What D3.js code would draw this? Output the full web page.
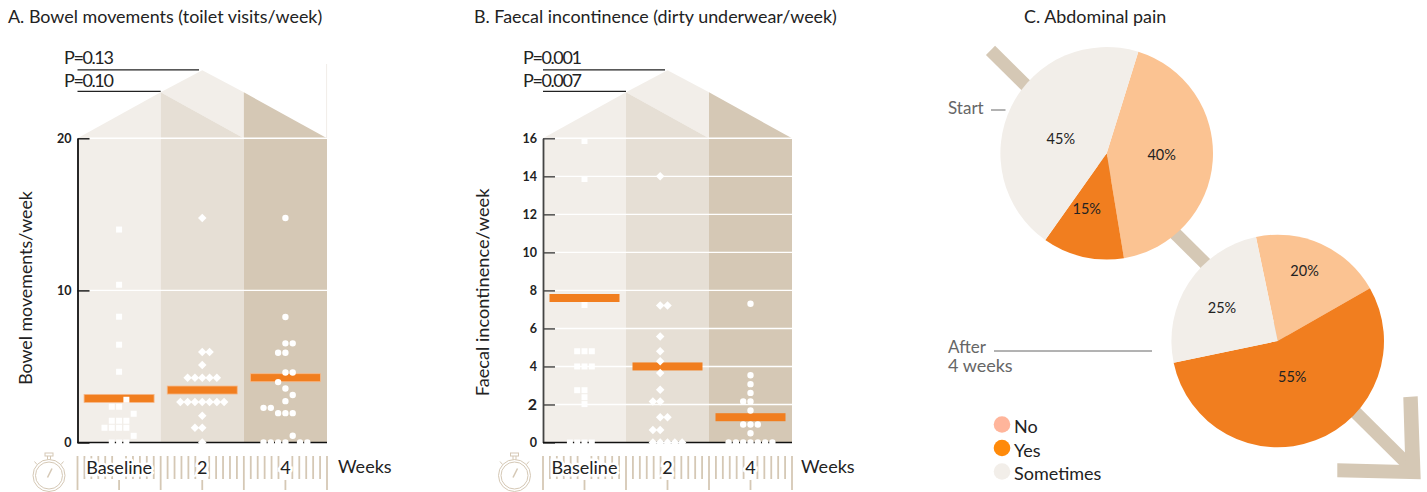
<!DOCTYPE html>
<html>
<head>
<meta charset="utf-8">
<script src="https://cdn.jsdelivr.net/npm/d3@7"></script>
<style>
  html, body { margin: 0; padding: 0; background: #fff; }
  svg { display: block; }
  text { font-family: "Lato", sans-serif; fill: #222; }
</style>
</head>
<body>
<svg id="chart" width="1427" height="492"></svg>
<script>
const weeks = ["Baseline", "2", "4"];

// each dot: value, slot = which swarm column it sits in
const bowelBaseValues = [14, 10.37, 8.27, 6.43, 4.65, 2.81, 2.35, 2.35, 1.89, 1.43, 1.43, 1.43, 0.97, 0.97, 0.97, 0.97, 0.44, 0, 0, 0];
const bowelBaseSlots  = [0, 0, 0, 0, 0, 1, -1, 0, 2, -1, 0, 1, -2, -1, 0, 1, 2, -1, 0, 1];
const bowelWk2Values = [14.76, 5.95, 5.95, 5.09, 4.26, 4.26, 4.26, 4.26, 4.26, 2.66, 2.66, 2.66, 2.66, 2.66, 2.66, 2.66, 1.76, 0.97, 0.97, 0];
const bowelWk2Slots  = [0, 0, 1, 0, -2, -1, 0, 1, 2, -3, -2, -1, 0, 1, 2, 3, 0, -1, 0, 0];
const bowelWk4Values = [14.76, 8.25, 6.52, 6.52, 5.9, 5.9, 4.6, 4.6, 3.97, 3.55, 3.12, 2.72, 2.28, 2.28, 1.93, 1.93, 1.93, 0.44, 0, 0, 0, 0, 0, 0];
const bowelWk4Slots  = [0, 0, 0, 1, -1, 0, 0, 1, -1, 0, 1, 0, -3, -2, -1, 0, 1, 1, -3, -2, -1, 0, 2, 3];
const bowelMeans = [2.9, 3.45, 4.26];

const faecalBaseValues = [15.86, 13.86, 7.23, 4.8, 4.8, 4.8, 4, 4, 4, 2.75, 2.75, 2.38, 2.02, 0, 0, 0, 0];
const faecalBaseSlots  = [0, 0, 0, -1, 0, 1, -1, 0, 1, -1, 0, 0, 0, -2, -1, 0, 1];
const faecalWk2Values = [14, 7.2, 7.2, 5.58, 4.8, 4.27, 3.66, 2.77, 2.16, 2.16, 1.33, 1.33, 0.66, 0.66, 0, 0, 0, 0, 0];
const faecalWk2Slots  = [-1, -1, 0, -1, -1, -1, -1, -1, -2, -1, -1, 0, -2, -1, -2, -1, 0, 1, 2];
const faecalWk4Values = [7.3, 3.54, 3.07, 2.61, 2.16, 2.16, 1.68, 0.95, 0.95, 0.95, 0.49, 0, 0, 0, 0, 0, 0, 0];
const faecalWk4Slots  = [0, 0, 0, 0, -1, 0, 0, -1, 0, 1, 0, -3, -2, -1, 0, 1, 2, 3];
const faecalMeans = [7.6, 4.0, 1.33];

const bowelTicks = [0, 10, 20];
const faecalTicks = [0, 2, 4, 6, 8, 10, 12, 14, 16];

const painCats = ["No", "Yes", "Sometimes"];
// slices as drawn, the printed labels do not quite match the first pie
const startShares = [42.6, 12.4, 45];
const startLabels = ["40%", "15%", "45%"];
const afterShares = [20, 55, 25];
const afterLabels = ["20%", "55%", "25%"];

const svg = d3.select("#chart");

const bandFill = ["#f2eee9", "#e6dfd5", "#d5c8b5"];
const tan = "#d5c8b5";
const orange = "#f17e1f";

function title(x, str) {
  svg.append("text").attr("x", x).attr("y", 23).attr("font-size", 17.9).text(str);
}

function drawPanel(o) {
  let g = svg.append("g");

  let x = d3.scaleBand().domain(weeks).range([o.left, o.right]);
  let y = d3.scaleLinear().domain([0, o.max]).range([442.5, 138.3]);
  let slotX = d3.scaleLinear().domain([-1, 1]).range([-7.3, 7.3]);
  let bw = x.bandwidth();
  let x0 = x(weeks[0]), x1 = x(weeks[1]), x2 = x(weeks[2]);
  let yTop = y(o.max), eave = yTop - 46;
  let peak = [o.peakX, yTop - 68];
  let line = d3.line();

  // the house roof
  g.append("path").attr("fill", bandFill[0]).attr("d", line([[x0, yTop], [x1, eave], [x1, yTop]]) + "Z");
  g.append("path").attr("fill", bandFill[0]).attr("d", line([[x1, eave], [x1 + bw / 2, peak[1]], [x2, eave], [x2, yTop]]) + "Z");
  g.append("path").attr("fill", bandFill[1]).attr("d", line([[x1, eave], [x2, yTop], [x1, yTop]]) + "Z");
  g.append("path").attr("fill", bandFill[2]).attr("d", line([[x2, eave], [o.right, yTop], [x2, yTop]]) + "Z");

  g.selectAll(".band").data(weeks).enter().append("rect")
    .attr("class", "band")
    .attr("x", d => x(d))
    .attr("y", yTop)
    .attr("width", bw)
    .attr("height", y(0) - yTop)
    .attr("fill", (d, i) => bandFill[i]);

  // white grid lines
  g.selectAll(".grid").data(o.ticks.slice(1)).enter().append("line")
    .attr("class", "grid")
    .attr("x1", o.left + 12).attr("x2", o.right)
    .attr("y1", d => y(d)).attr("y2", d => y(d))
    .attr("stroke", "#fff").attr("stroke-width", 1.4);

  // axis, ticks point inward
  let axis = d3.axisLeft(y).tickValues(o.ticks).tickSizeInner(-12).tickSizeOuter(0).tickPadding(6);
  let ax = g.append("g").attr("transform", `translate(${o.left},0)`).call(axis);
  ax.select(".domain").attr("stroke", o.axisColor).attr("stroke-width", 1.8);
  ax.selectAll(".tick line").attr("stroke", o.axisColor).attr("stroke-width", 1.4);
  ax.selectAll(".tick text")
    .attr("font-size", d => (o.bigTwo && d === 2) ? 16 : 12.5)
    .attr("font-weight", 700)
    .style("font-family", "Lato, sans-serif")
    .style("fill", "#222");

  g.append("line")
    .attr("x1", o.left).attr("x2", o.right)
    .attr("y1", y(0)).attr("y2", y(0))
    .attr("stroke", "#111").attr("stroke-width", 1.4);

  // mean bars
  g.selectAll(".mean").data(o.means).enter().append("rect")
    .attr("class", "mean")
    .attr("x", (d, i) => x(weeks[i]) + bw / 2 - 35)
    .attr("y", d => y(d) - 4)
    .attr("width", 70).attr("height", 8)
    .attr("fill", orange)
    .attr("stroke", o.meanEdge ? "#f6b98a" : "none")
    .attr("stroke-width", 0.8);

  // dots, square / diamond / circle per time point, they sit over the baseline
  let symbols = [d3.symbolSquare, d3.symbolDiamond2, d3.symbolCircle];
  let sizes = [36, 46, 32];
  o.series.forEach((s, i) => {
    let cx = x(weeks[i]) + bw / 2;
    let pts = s.values.map((v, j) => ({value: v, slot: s.slots[j]}));
    g.selectAll(".dot" + i).data(pts).enter().append("path")
      .attr("class", "dot" + i)
      .attr("d", d3.symbol().type(symbols[i]).size(sizes[i]))
      .attr("transform", d => `translate(${cx + slotX(d.slot)},${y(d.value)})`)
      .attr("fill", "#fff");
  });

  // P value brackets
  let pLines = [[o.pLabels[0], peak[0], yTop - 68.5, 64], [o.pLabels[1], x1, yTop - 47, 87]];
  pLines.forEach(p => {
    g.append("line").attr("x1", o.left).attr("x2", p[1])
      .attr("y1", p[2]).attr("y2", p[2]).attr("stroke", "#222").attr("stroke-width", 1.3);
    g.append("text").attr("x", o.left - o.pInset).attr("y", p[3])
      .attr("font-size", 18).attr("letter-spacing", -1.4).text(p[0]);
  });

  // y title
  g.append("text")
    .attr("transform", `translate(${o.labelX},${o.labelY}) rotate(-90)`)
    .attr("text-anchor", "middle")
    .attr("font-size", o.labelSize)
    .text(o.yLabel);

  drawRuler(g, x, o);
}

function drawRuler(g, x, o) {
  let bw = x.bandwidth();
  let step = bw / 12;
  let ticks = d3.range(0, 37);
  g.selectAll(".rule").data(ticks).enter().append("line")
    .attr("class", "rule")
    .attr("x1", d => o.left + d * step).attr("x2", d => o.left + d * step)
    .attr("y1", d => d % 12 === 0 ? 456 : (d % 6 === 0 ? 480 : 456))
    .attr("y2", d => d % 6 === 0 ? 490 : 479)
    .attr("stroke", tan).attr("stroke-width", 1.8);

  g.selectAll(".wk").data(weeks).enter().append("text")
    .attr("class", "wk")
    .attr("x", d => x(d) + bw / 2)
    .attr("y", 474)
    .attr("text-anchor", "middle")
    .attr("font-size", 18)
    .attr("stroke", "#fff").attr("stroke-width", 5).attr("paint-order", "stroke")
    .text(d => d);
  g.append("text").attr("x", o.right + o.weeksGap).attr("y", 473).attr("font-size", 18).text("Weeks");

  // stopwatch
  let w = g.append("g").attr("transform", `translate(${o.left - 28.5},475.5)`)
    .attr("fill", "none").attr("stroke", tan).attr("stroke-width", 1);
  w.append("circle").attr("r", 16);
  w.append("circle").attr("r", 13.5);
  w.append("rect").attr("x", -4).attr("y", -22.5).attr("width", 8).attr("height", 3);
  w.append("path").attr("d", "M-1.5,-19.5V-16M1.5,-19.5V-16");
  w.append("path").attr("d", "M-12,-11L-14.5,-14M12,-11L14.5,-14");
  w.append("path").attr("d", "M-1.5,2L3,-7").attr("stroke-width", 1.6);
}

function drawPie(o) {
  let g = svg.append("g").attr("transform", `translate(${o.cx},${o.cy})`);
  let start = o.startDeg * Math.PI / 180;
  let pie = d3.pie().sort(null).startAngle(start).endAngle(start + 2 * Math.PI);
  let arc = d3.arc().innerRadius(0).outerRadius(106.3);
  let color = d3.scaleOrdinal().domain(painCats).range(["#fbc392", orange, "#f2eee9"]);
  let arcs = pie(o.shares);

  g.selectAll("path").data(arcs).enter().append("path")
    .attr("d", arc)
    .attr("fill", (d, i) => color(painCats[i]));

  g.selectAll("text").data(arcs).enter().append("text")
    .attr("text-anchor", "middle")
    .attr("font-size", 14.5)
    .attr("dy", "0.35em")
    .attr("transform", (d, i) => {
      let p = o.labelPolar[i];
      let a = p[1] * Math.PI / 180;
      return `translate(${p[0] * Math.sin(a)},${-p[0] * Math.cos(a)})`;
    })
    .text((d, i) => o.labels[i]);
}

title(8, "A. Bowel movements (toilet visits/week)");
title(474, "B. Faecal incontinence (dirty underwear/week)");
title(1024, "C. Abdominal pain");

drawPanel({
  left: 77.5, right: 327, max: 20, ticks: bowelTicks, means: bowelMeans, meanEdge: true,
  series: [
    {values: bowelBaseValues, slots: bowelBaseSlots},
    {values: bowelWk2Values, slots: bowelWk2Slots},
    {values: bowelWk4Values, slots: bowelWk4Slots}
  ],
  pLabels: ["P=0.13", "P=0.10"], peakX: 199, pInset: 13.5, weeksGap: 11,
  yLabel: "Bowel movements/week", labelX: 32, labelY: 288, labelSize: 17.8, axisColor: "#111"
});

// faint edge to the right of panel A
svg.append("line").attr("x1", 326.6).attr("x2", 326.6).attr("y1", 64).attr("y2", 138)
  .attr("stroke", "#f1ede8").attr("stroke-width", 1);

drawPanel({
  left: 543, right: 792, max: 16, ticks: faecalTicks, means: faecalMeans,
  series: [
    {values: faecalBaseValues, slots: faecalBaseSlots},
    {values: faecalWk2Values, slots: faecalWk2Slots},
    {values: faecalWk4Values, slots: faecalWk4Slots}
  ],
  pLabels: ["P=0.001", "P=0.007"], peakX: 665, bigTwo: true, pInset: 20, weeksGap: 9,
  yLabel: "Faecal incontinence/week", labelX: 489, labelY: 292.5, labelSize: 18.2, axisColor: "#444"
});

// arrow running behind the pies
let arrowLine = d3.line();
svg.append("path")
  .attr("d", arrowLine([[990.5, 50.3], [1412, 468.5]]))
  .attr("stroke", tan).attr("stroke-width", 13).attr("fill", "none");
svg.append("path")
  .attr("d", arrowLine([[1403.3, 397.3], [1417.7, 396.3], [1420.7, 479.3], [1337.3, 477.3], [1337.3, 463.3], [1405.3, 465]]) + "Z")
  .attr("fill", tan);

drawPie({
  cx: 1106.7, cy: 153.3, startDeg: 17.3, shares: startShares, labels: startLabels,
  labelPolar: [[55, 92], [59, 199.8], [48, 287]]
});
drawPie({
  cx: 1277.7, cy: 341, startDeg: -11.8, shares: afterShares, labels: afterLabels,
  labelPolar: [[75, 21], [38.7, 158], [65, 301]]
});

// time labels beside the pies
let grey = "#666";
svg.append("text").attr("x", 948).attr("y", 114).attr("font-size", 17).style("fill", grey).text("Start");
svg.append("line").attr("x1", 991).attr("x2", 1005.5).attr("y1", 110).attr("y2", 110).attr("stroke", grey);
svg.append("text").attr("x", 948).attr("y", 353).attr("font-size", 17).style("fill", grey).text("After");
svg.append("text").attr("x", 948).attr("y", 372).attr("font-size", 18).style("fill", grey).text("4 weeks");
svg.append("line").attr("x1", 994).attr("x2", 1152).attr("y1", 351).attr("y2", 351).attr("stroke", grey);

// legend
let legendY = d3.scalePoint().domain(painCats).range([424.5, 471.5]);
let legendFill = d3.scaleOrdinal().domain(painCats).range(["#ffb59b", "#ff8a0a", "#f2eee9"]);
svg.selectAll(".leg").data(painCats).enter().append("circle")
  .attr("class", "leg")
  .attr("cx", 1002).attr("cy", d => legendY(d)).attr("r", 8.3)
  .attr("fill", d => legendFill(d));
svg.selectAll(".legt").data(painCats).enter().append("text")
  .attr("class", "legt")
  .attr("x", 1014).attr("y", d => legendY(d) + 8.5)
  .attr("font-size", 18)
  .text(d => d);
</script>
</body>
</html>
